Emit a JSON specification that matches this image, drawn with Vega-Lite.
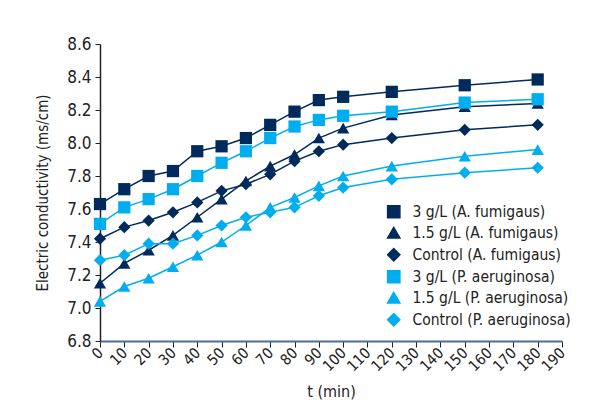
{
  "$schema": "https://vega.github.io/schema/vega-lite/v6.json",
  "width": 462,
  "height": 297,
  "autosize": "none",
  "padding": {"left": 100, "top": 44, "right": 35, "bottom": 79},
  "background": "white",
  "data": {
    "values": [
      {"t": 0, "s": "3 g/L (A. fumigaus)", "v": 7.63},
      {"t": 10, "s": "3 g/L (A. fumigaus)", "v": 7.72},
      {"t": 20, "s": "3 g/L (A. fumigaus)", "v": 7.80},
      {"t": 30, "s": "3 g/L (A. fumigaus)", "v": 7.83},
      {"t": 40, "s": "3 g/L (A. fumigaus)", "v": 7.95},
      {"t": 50, "s": "3 g/L (A. fumigaus)", "v": 7.98},
      {"t": 60, "s": "3 g/L (A. fumigaus)", "v": 8.03},
      {"t": 70, "s": "3 g/L (A. fumigaus)", "v": 8.11},
      {"t": 80, "s": "3 g/L (A. fumigaus)", "v": 8.19},
      {"t": 90, "s": "3 g/L (A. fumigaus)", "v": 8.26},
      {"t": 100, "s": "3 g/L (A. fumigaus)", "v": 8.28},
      {"t": 120, "s": "3 g/L (A. fumigaus)", "v": 8.31},
      {"t": 150, "s": "3 g/L (A. fumigaus)", "v": 8.35},
      {"t": 180, "s": "3 g/L (A. fumigaus)", "v": 8.385},
      {"t": 0, "s": "1.5 g/L (A. fumigaus)", "v": 7.15},
      {"t": 10, "s": "1.5 g/L (A. fumigaus)", "v": 7.27},
      {"t": 20, "s": "1.5 g/L (A. fumigaus)", "v": 7.35},
      {"t": 30, "s": "1.5 g/L (A. fumigaus)", "v": 7.44},
      {"t": 40, "s": "1.5 g/L (A. fumigaus)", "v": 7.55},
      {"t": 50, "s": "1.5 g/L (A. fumigaus)", "v": 7.66},
      {"t": 60, "s": "1.5 g/L (A. fumigaus)", "v": 7.77},
      {"t": 70, "s": "1.5 g/L (A. fumigaus)", "v": 7.86},
      {"t": 80, "s": "1.5 g/L (A. fumigaus)", "v": 7.93},
      {"t": 90, "s": "1.5 g/L (A. fumigaus)", "v": 8.03},
      {"t": 100, "s": "1.5 g/L (A. fumigaus)", "v": 8.09},
      {"t": 120, "s": "1.5 g/L (A. fumigaus)", "v": 8.17},
      {"t": 150, "s": "1.5 g/L (A. fumigaus)", "v": 8.22},
      {"t": 180, "s": "1.5 g/L (A. fumigaus)", "v": 8.24},
      {"t": 0, "s": "Control (A. fumigaus)", "v": 7.42},
      {"t": 10, "s": "Control (A. fumigaus)", "v": 7.49},
      {"t": 20, "s": "Control (A. fumigaus)", "v": 7.53},
      {"t": 30, "s": "Control (A. fumigaus)", "v": 7.58},
      {"t": 40, "s": "Control (A. fumigaus)", "v": 7.64},
      {"t": 50, "s": "Control (A. fumigaus)", "v": 7.71},
      {"t": 60, "s": "Control (A. fumigaus)", "v": 7.75},
      {"t": 70, "s": "Control (A. fumigaus)", "v": 7.81},
      {"t": 80, "s": "Control (A. fumigaus)", "v": 7.89},
      {"t": 90, "s": "Control (A. fumigaus)", "v": 7.95},
      {"t": 100, "s": "Control (A. fumigaus)", "v": 7.99},
      {"t": 120, "s": "Control (A. fumigaus)", "v": 8.03},
      {"t": 150, "s": "Control (A. fumigaus)", "v": 8.08},
      {"t": 180, "s": "Control (A. fumigaus)", "v": 8.11},
      {"t": 0, "s": "3 g/L (P. aeruginosa)", "v": 7.51},
      {"t": 10, "s": "3 g/L (P. aeruginosa)", "v": 7.61},
      {"t": 20, "s": "3 g/L (P. aeruginosa)", "v": 7.66},
      {"t": 30, "s": "3 g/L (P. aeruginosa)", "v": 7.72},
      {"t": 40, "s": "3 g/L (P. aeruginosa)", "v": 7.80},
      {"t": 50, "s": "3 g/L (P. aeruginosa)", "v": 7.88},
      {"t": 60, "s": "3 g/L (P. aeruginosa)", "v": 7.95},
      {"t": 70, "s": "3 g/L (P. aeruginosa)", "v": 8.03},
      {"t": 80, "s": "3 g/L (P. aeruginosa)", "v": 8.10},
      {"t": 90, "s": "3 g/L (P. aeruginosa)", "v": 8.14},
      {"t": 100, "s": "3 g/L (P. aeruginosa)", "v": 8.165},
      {"t": 120, "s": "3 g/L (P. aeruginosa)", "v": 8.19},
      {"t": 150, "s": "3 g/L (P. aeruginosa)", "v": 8.245},
      {"t": 180, "s": "3 g/L (P. aeruginosa)", "v": 8.265},
      {"t": 0, "s": "1.5 g/L (P. aeruginosa)", "v": 7.04},
      {"t": 10, "s": "1.5 g/L (P. aeruginosa)", "v": 7.13},
      {"t": 20, "s": "1.5 g/L (P. aeruginosa)", "v": 7.18},
      {"t": 30, "s": "1.5 g/L (P. aeruginosa)", "v": 7.25},
      {"t": 40, "s": "1.5 g/L (P. aeruginosa)", "v": 7.32},
      {"t": 50, "s": "1.5 g/L (P. aeruginosa)", "v": 7.40},
      {"t": 60, "s": "1.5 g/L (P. aeruginosa)", "v": 7.50},
      {"t": 70, "s": "1.5 g/L (P. aeruginosa)", "v": 7.61},
      {"t": 80, "s": "1.5 g/L (P. aeruginosa)", "v": 7.67},
      {"t": 90, "s": "1.5 g/L (P. aeruginosa)", "v": 7.74},
      {"t": 100, "s": "1.5 g/L (P. aeruginosa)", "v": 7.80},
      {"t": 120, "s": "1.5 g/L (P. aeruginosa)", "v": 7.86},
      {"t": 150, "s": "1.5 g/L (P. aeruginosa)", "v": 7.92},
      {"t": 180, "s": "1.5 g/L (P. aeruginosa)", "v": 7.96},
      {"t": 0, "s": "Control (P. aeruginosa)", "v": 7.29},
      {"t": 10, "s": "Control (P. aeruginosa)", "v": 7.32},
      {"t": 20, "s": "Control (P. aeruginosa)", "v": 7.39},
      {"t": 30, "s": "Control (P. aeruginosa)", "v": 7.39},
      {"t": 40, "s": "Control (P. aeruginosa)", "v": 7.44},
      {"t": 50, "s": "Control (P. aeruginosa)", "v": 7.50},
      {"t": 60, "s": "Control (P. aeruginosa)", "v": 7.55},
      {"t": 70, "s": "Control (P. aeruginosa)", "v": 7.58},
      {"t": 80, "s": "Control (P. aeruginosa)", "v": 7.61},
      {"t": 90, "s": "Control (P. aeruginosa)", "v": 7.68},
      {"t": 100, "s": "Control (P. aeruginosa)", "v": 7.73},
      {"t": 120, "s": "Control (P. aeruginosa)", "v": 7.78},
      {"t": 150, "s": "Control (P. aeruginosa)", "v": 7.82},
      {"t": 180, "s": "Control (P. aeruginosa)", "v": 7.85}
    ]
  },
  "encoding": {
    "x": {
      "field": "t", "type": "quantitative",
      "scale": {"domain": [0, 190], "nice": false, "zero": false},
      "axis": {
        "title": "t (min)", "titleFontSize": 16, "titleFontWeight": "normal", "titleColor": "#222", "titlePadding": 10,
        "values": [0,10,20,30,40,50,60,70,80,90,100,110,120,130,140,150,160,170,180,190],
        "labelAngle": -45, "labelAlign": "right", "labelBaseline": "middle", "labelFontSize": 15, "labelColor": "#222", "labelPadding": 3,
        "labelOverlap": false, "labelBound": false, "labelFlush": false,
        "domainColor": "#4f6e93", "domainWidth": 2, "tickColor": "#222", "tickSize": 6, "grid": false
      }
    },
    "y": {
      "field": "v", "type": "quantitative",
      "scale": {"domain": [6.8, 8.6], "nice": false, "zero": false},
      "axis": {
        "title": "Electric conductivity (ms/cm)", "titleFontSize": 15, "titleFontWeight": "normal", "titleColor": "#222", "titlePadding": 16,
        "values": [6.8,7.0,7.2,7.4,7.6,7.8,8.0,8.2,8.4,8.6], "format": ".1f",
        "labelFontSize": 17, "labelColor": "#222", "labelPadding": 4, "labelOverlap": false, "labelFlush": false,
        "domainColor": "#222", "domainWidth": 1.5, "tickColor": "#222", "tickSize": 5, "grid": false
      }
    },
    "color": {
      "field": "s", "type": "nominal", "title": null,
      "scale": {
        "domain": ["3 g/L (A. fumigaus)", "1.5 g/L (A. fumigaus)", "Control (A. fumigaus)", "3 g/L (P. aeruginosa)", "1.5 g/L (P. aeruginosa)", "Control (P. aeruginosa)"],
        "range": ["#002a5c", "#002a5c", "#002a5c", "#00aeef", "#00aeef", "#00aeef"]
      }
    }
  },
  "layer": [
    {
      "mark": {"type": "line", "strokeWidth": 1.5},
      "encoding": {"detail": {"field": "s"}}
    },
    {
      "mark": {"type": "point", "filled": true, "opacity": 1, "size": 150},
      "encoding": {
        "shape": {
          "field": "s", "type": "nominal", "title": null,
          "scale": {
            "domain": ["3 g/L (A. fumigaus)", "1.5 g/L (A. fumigaus)", "Control (A. fumigaus)", "3 g/L (P. aeruginosa)", "1.5 g/L (P. aeruginosa)", "Control (P. aeruginosa)"],
            "range": ["square", "triangle-up", "diamond", "square", "triangle-up", "diamond"]
          }
        }
      }
    }
  ],
  "config": {
    "view": {"stroke": null},
    "font": "DejaVu Sans Condensed, Liberation Sans, sans-serif",
    "legend": {
      "orient": "none", "legendX": 286, "legendY": 160,
      "labelFontSize": 15.5, "labelColor": "#222", "labelLimit": 0,
      "symbolSize": 150, "rowPadding": 3, "labelOffset": 11, "symbolOpacity": 1
    }
  }
}
